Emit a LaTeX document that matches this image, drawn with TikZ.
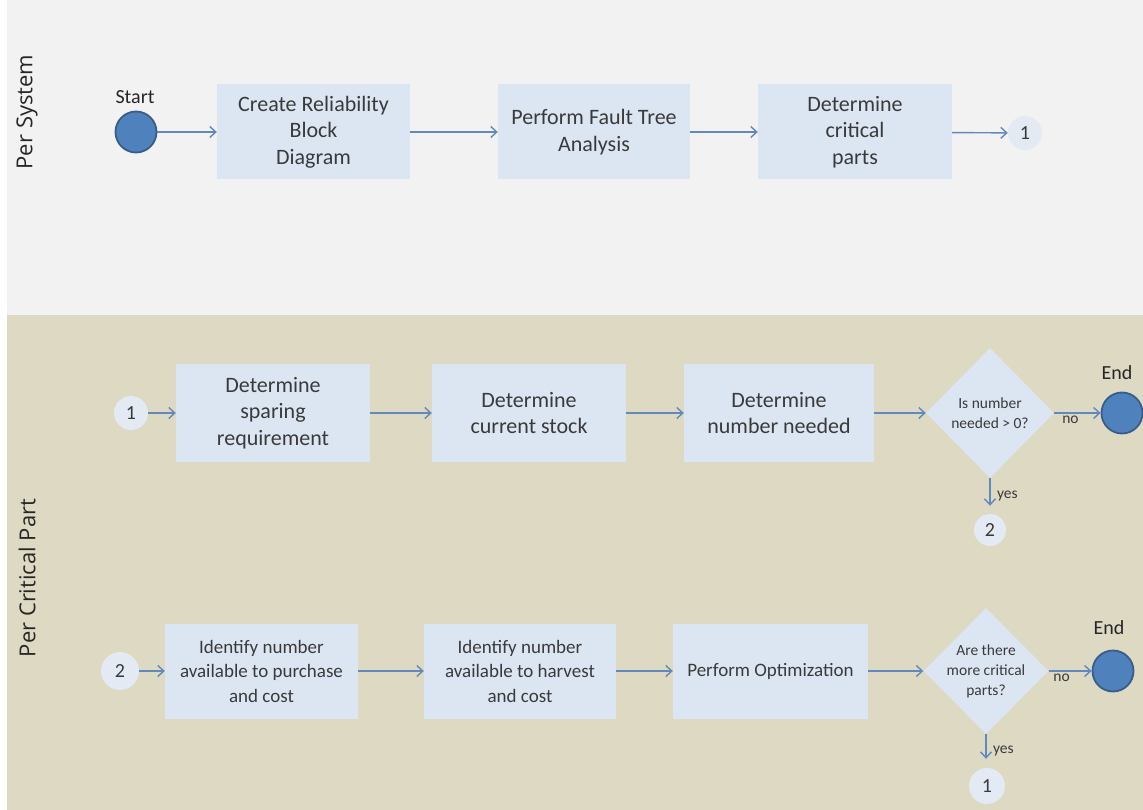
\documentclass[tikz,border=0pt]{standalone}
\usepackage{fontspec}
\setmainfont{Carlito}
\newfontfamily\lanefont{Open Sans}
\usetikzlibrary{shapes.geometric,arrows.meta}

\definecolor{laneTop}{HTML}{F2F2F2}
\definecolor{laneBot}{HTML}{DDD9C3}
\definecolor{boxFill}{HTML}{DCE6F2}
\definecolor{connFill}{HTML}{E4EAF3}
\definecolor{termFill}{HTML}{4F81BD}
\definecolor{termLine}{HTML}{385D8A}
\definecolor{flow}{HTML}{6189BD}
\definecolor{ink}{HTML}{3A3A3A}

\tikzset{
  lane/.style={font=\lanefont\fontsize{22}{26}\selectfont, text=black!85, rotate=90},
  proc/.style={fill=boxFill, draw=none, minimum width=193pt, minimum height=95pt,
    align=center, inner sep=2pt, text=ink, font=\fontsize{22}{26.5}\selectfont},
  procsm/.style={proc, font=\fontsize{19}{24.5}\selectfont},
  term/.style={circle, fill=termFill, draw=termLine, line width=1.8pt,
    minimum size=41pt, inner sep=0pt},
  conn/.style={circle, fill=connFill, minimum size=34pt, inner sep=0pt,
    text=ink, font=\fontsize{20}{24}\selectfont},
  decision/.style={diamond, fill=boxFill, draw=none, inner sep=0pt},
  dtext/.style={align=center, text=ink, font=\fontsize{15.5}{20}\selectfont},
  tag/.style={text=black!85, font=\fontsize{20}{24}\selectfont},
  branch/.style={text=ink, font=\fontsize{15.5}{18}\selectfont},
  flowarrow/.style={draw=flow, line width=1.4pt,
    -{Straight Barb[length=6pt,width=11pt,line width=1.4pt]}},
}

\begin{document}
\begin{tikzpicture}[x=1pt,y=-1pt]
  \useasboundingbox (0,0) rectangle (1143,810);
  % swim lanes
  \fill[white] (0,0) rectangle (1143,810);
  \fill[laneTop] (7,0) rectangle (1143,315);
  \fill[laneBot] (7,315) rectangle (1143,810);
  \node[lane] (laneSys) at (27,112) {Per System};
  \node[lane] (lanePart) at (27,578) {Per Critical Part};

  % per system
  \node[term] (start) at (136,132) {};
  \node[tag] (startLbl) at (135,97) {Start};
  \node[proc] (rbd) at (313.5,132) {Create Reliability\\Block\\Diagram};
  \node[proc, minimum width=192pt] (fta) at (594,132) {Perform Fault Tree\\Analysis};
  \node[proc, minimum width=194pt] (crit) at (855,132) {Determine\\critical\\parts};
  \node[conn] (toPart) at (1025,133) {1};

  \draw[flowarrow] (start) -- (rbd);
  \draw[flowarrow] (rbd) -- (fta);
  \draw[flowarrow] (fta) -- (crit);
  \draw[flowarrow] (crit) -- (toPart);

  % per critical part, first row
  \node[conn] (fromSys) at (131,413) {1};
  \node[proc, minimum height=98pt, minimum width=194pt] (spare) at (273,413) {Determine\\sparing\\requirement};
  \node[proc, minimum height=98pt, minimum width=194pt] (stock) at (529,413) {Determine\\current stock};
  \node[proc, minimum height=98pt, minimum width=190pt] (need) at (779,413) {Determine\\number needed};
  \node[decision, minimum width=128pt, minimum height=130pt,
        label={[dtext]center:Is number\\needed > 0?}] (needQ) at (990,413) {};
  \node[term] (endA) at (1122,413) {};
  \node[tag] (endALbl) at (1117,373) {End};
  \node[conn, minimum size=32pt] (toOpt) at (990,530) {2};

  \draw[flowarrow] (fromSys) -- (spare);
  \draw[flowarrow] (spare) -- (stock);
  \draw[flowarrow] (stock) -- (need);
  \draw[flowarrow] (need) -- (needQ);
  \draw[flowarrow] (needQ.east) -- node[branch, pos=0.35, below=-1pt] {no} (endA);
  \draw[flowarrow, shorten >=8pt] (needQ.south) -- node[branch, right=3pt] {yes} (toOpt);

  % per critical part, second row
  \node[conn, minimum size=38pt] (fromNeed) at (120,671) {2};
  \node[procsm] (buy) at (261.5,671) {Identify number\\available to purchase\\and cost};
  \node[procsm, minimum width=192pt] (harvest) at (520,671) {Identify number\\available to harvest\\and cost};
  \node[procsm, minimum width=195pt] (opt) at (770.5,671) {Perform Optimization};
  \node[decision, minimum width=125pt, minimum height=126pt,
        label={[dtext]center:Are there\\more critical\\parts?}] (moreQ) at (986,671) {};
  \node[term] (endB) at (1113,671) {};
  \node[tag] (endBLbl) at (1109,628) {End};
  \node[conn, minimum size=36pt] (loop) at (987,786) {1};

  \draw[flowarrow] (fromNeed) -- (buy);
  \draw[flowarrow] (buy) -- (harvest);
  \draw[flowarrow] (harvest) -- (opt);
  \draw[flowarrow] (opt) -- (moreQ);
  \draw[flowarrow] (moreQ.east) -- node[branch, pos=0.3, below=-1pt] {no} (endB);
  \draw[flowarrow, shorten >=9pt] (moreQ.south) -- node[branch, right=3pt] {yes} (moreQ.south |- loop.north);
\end{tikzpicture}
\end{document}
